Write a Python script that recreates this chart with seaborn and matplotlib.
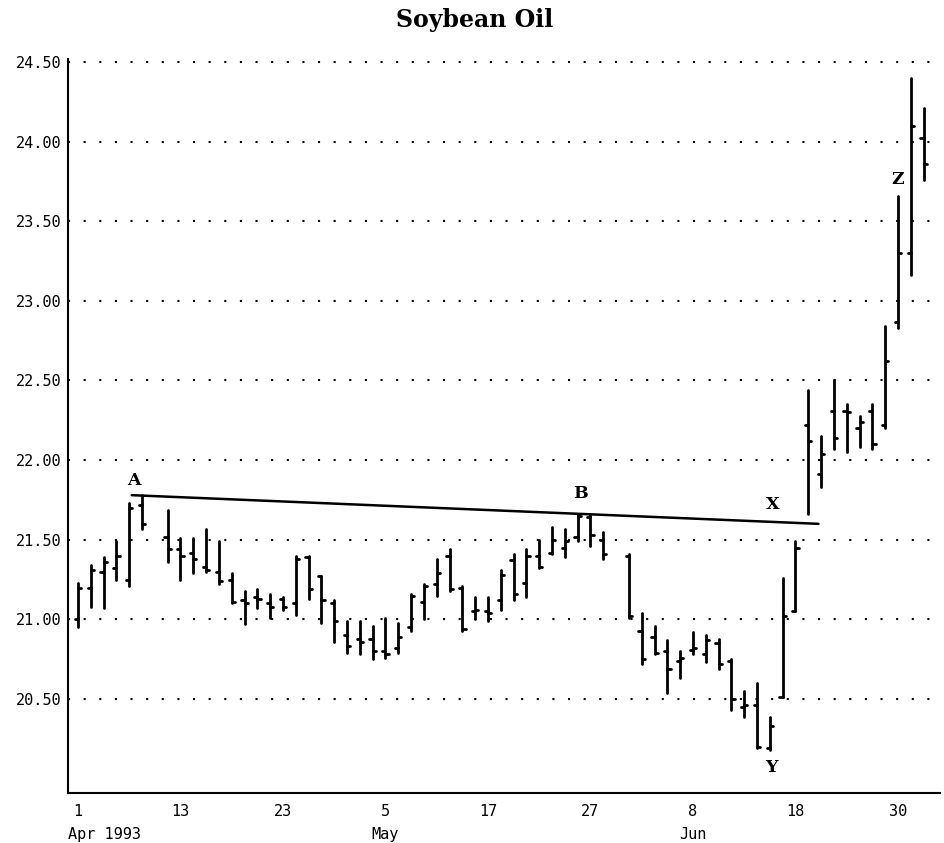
# Soybean Oil daily bar chart, Apr - Jul 1993
import numpy as np
import pandas as pd
import seaborn as sns
import matplotlib
matplotlib.use('Agg')
import matplotlib.pyplot as plt
from matplotlib.ticker import MultipleLocator, FixedLocator

# Daily prices (open / high / low / close)
dates = ['1993-04-01', '1993-04-02', '1993-04-05', '1993-04-06', '1993-04-07', '1993-04-08',
         '1993-04-12', '1993-04-13', '1993-04-14', '1993-04-15', '1993-04-16',
         '1993-04-19', '1993-04-20', '1993-04-21', '1993-04-22', '1993-04-23',
         '1993-04-26', '1993-04-27', '1993-04-28', '1993-04-29', '1993-04-30',
         '1993-05-03', '1993-05-04', '1993-05-05', '1993-05-06', '1993-05-07',
         '1993-05-10', '1993-05-11', '1993-05-12', '1993-05-13', '1993-05-14',
         '1993-05-17', '1993-05-18', '1993-05-19', '1993-05-20', '1993-05-21',
         '1993-05-24', '1993-05-25', '1993-05-26', '1993-05-27', '1993-05-28',
         '1993-06-01', '1993-06-02', '1993-06-03', '1993-06-04',
         '1993-06-07', '1993-06-08', '1993-06-09', '1993-06-10', '1993-06-11',
         '1993-06-14', '1993-06-15', '1993-06-16', '1993-06-17', '1993-06-18',
         '1993-06-21', '1993-06-22', '1993-06-23', '1993-06-24', '1993-06-25',
         '1993-06-28', '1993-06-29', '1993-06-30', '1993-07-01', '1993-07-02']

opens = [21.00, 21.20, 21.30, 21.32, 21.25, 21.72,
         21.52, 21.44, 21.42, 21.33, 21.30,
         21.25, 21.12, 21.14, 21.10, 21.13,
         21.10, 21.39, 21.27, 21.10, 20.90,
         20.88, 20.88, 20.80, 20.82, 20.95,
         21.11, 21.22, 21.40, 21.20, 21.05,
         21.05, 21.12, 21.37, 21.23, 21.40,
         21.42, 21.45, 21.52, 21.64, 21.50,
         21.40, 20.93, 20.89, 20.80,
         20.74, 20.81, 20.78, 20.85, 20.74,
         20.45, 20.46, 20.19, 20.51, 21.05,
         22.22, 21.91, 22.31, 22.31, 22.20,
         22.31, 22.22, 22.87, 23.30, 24.02]

highs = [21.23, 21.34, 21.39, 21.49, 21.73, 21.78,
         21.69, 21.51, 21.51, 21.57, 21.49,
         21.29, 21.18, 21.19, 21.16, 21.14,
         21.40, 21.40, 21.27, 21.12, 20.99,
         20.99, 20.96, 21.01, 20.98, 21.16,
         21.22, 21.38, 21.44, 21.21, 21.14,
         21.14, 21.31, 21.41, 21.44, 21.50,
         21.58, 21.57, 21.66, 21.66, 21.55,
         21.41, 21.04, 20.96, 20.87,
         20.80, 20.92, 20.90, 20.88, 20.75,
         20.55, 20.60, 20.39, 21.26, 21.49,
         22.44, 22.15, 22.50, 22.35, 22.28,
         22.35, 22.84, 23.66, 24.40, 24.21]

lows = [20.95, 21.08, 21.07, 21.25, 21.21, 21.57,
        21.36, 21.25, 21.29, 21.30, 21.22,
        21.10, 20.97, 21.07, 21.01, 21.06,
        21.03, 21.13, 20.98, 20.86, 20.79,
        20.78, 20.75, 20.76, 20.79, 20.93,
        21.00, 21.15, 21.18, 20.93, 21.00,
        20.99, 21.06, 21.12, 21.14, 21.32,
        21.41, 21.39, 21.49, 21.46, 21.38,
        21.01, 20.72, 20.78, 20.54,
        20.63, 20.78, 20.73, 20.69, 20.43,
        20.39, 20.19, 20.18, 20.51, 21.05,
        21.66, 21.83, 22.07, 22.05, 22.08,
        22.07, 22.20, 22.83, 23.16, 23.76]

closes = [21.20, 21.31, 21.36, 21.40, 21.70, 21.60,
          21.44, 21.40, 21.38, 21.31, 21.24,
          21.11, 21.10, 21.13, 21.08, 21.08,
          21.38, 21.19, 21.12, 20.99, 20.83,
          20.86, 20.80, 20.78, 20.89, 21.15,
          21.21, 21.29, 21.19, 20.94, 21.06,
          21.04, 21.28, 21.16, 21.40, 21.33,
          21.50, 21.49, 21.65, 21.53, 21.41,
          21.02, 20.75, 20.79, 20.69,
          20.76, 20.82, 20.87, 20.72, 20.50,
          20.46, 20.20, 20.33, 21.02, 21.45,
          22.12, 22.04, 22.14, 22.30, 22.24,
          22.10, 22.62, 23.30, 24.10, 23.86]

# trendline A-B-X (position in weekdays from Apr 1, price)
trend_pos = [4.2, 57.8]
trend_price = [21.78, 21.60]

# pattern letters
note_text = ['A', 'B', 'X', 'Y', 'Z']
note_pos = [4.4, 39.2, 54.2, 54.1, 64.0]
note_price = [21.87, 21.79, 21.72, 20.07, 23.76]

month_labels = ['May', 'Jun']
month_pos = [24, 48]

# weekday index since Apr 1 (holidays leave a gap)
xpos = np.busday_count('1993-04-01', np.array(dates, dtype='datetime64[D]'))

tick = 0.25
rows = []
for k, x in enumerate(xpos):
    rows.append((f'bar{k}', x, lows[k]))
    rows.append((f'bar{k}', x, highs[k]))
    rows.append((f'open{k}', x - tick, opens[k]))
    rows.append((f'open{k}', x, opens[k]))
    rows.append((f'close{k}', x, closes[k]))
    rows.append((f'close{k}', x + tick, closes[k]))
bars = pd.DataFrame(rows, columns=['unit', 'x', 'price'])

sns.set_style('white')
plt.rcParams['font.family'] = ['DejaVu Sans Mono']

fig = plt.figure(figsize=(9.44, 8.43), dpi=100)
ax = fig.add_axes([0.072, 0.0593, 0.924, 0.871])

sns.lineplot(data=bars, x='x', y='price', units='unit', estimator=None, sort=False,
             color='black', linewidth=2.0, ax=ax)
sns.lineplot(x=trend_pos, y=trend_price, color='black', linewidth=1.8, ax=ax)

for t, x, y in zip(note_text, note_pos, note_price):
    ax.text(x, y, t, ha='center', va='center', fontsize=12.5, fontweight='bold',
            family='DejaVu Serif', color='black')

ax.set_xlim(-0.78, 67.3)
ax.set_ylim(19.91, 24.52)

ax.yaxis.set_major_locator(FixedLocator(np.arange(20.5, 24.51, 0.5)))
ax.yaxis.set_major_formatter(lambda v, p: f'{v:.2f}')
ax.grid(axis='y', color='black', linestyle=(0, (1, 6.5)), linewidth=1.5)
ax.grid(axis='x', visible=False)

major = np.arange(0, 65, 8)
day_labels = [str(pd.Timestamp(np.busday_offset('1993-04-01', int(m), roll='forward')).day)
              for m in major]
ax.set_xticks(major)
ax.set_xticklabels(day_labels)
ax.xaxis.set_minor_locator(MultipleLocator(4))

ax.tick_params(axis='both', which='both', direction='in', length=5, width=1.2,
               color='black', labelsize=11, labelcolor='black')
ax.tick_params(axis='x', pad=8)
ax.tick_params(axis='y', pad=5)

trans = ax.get_xaxis_transform()
ax.text(-0.78, -0.057, 'Apr 1993', transform=trans, ha='left', va='center', fontsize=11,
        color='black')
for m, x in zip(month_labels, month_pos):
    ax.text(x, -0.057, m, transform=trans, ha='center', va='center', fontsize=11,
            color='black')

ax.set_xlabel('')
ax.set_ylabel('')
sns.despine(ax=ax)
for s in ['left', 'bottom']:
    ax.spines[s].set_color('black')
    ax.spines[s].set_linewidth(1.5)

fig.suptitle('Soybean Oil', x=0.503, y=0.99, va='top', fontsize=17,
             fontweight='bold', family='DejaVu Serif', color='black')

fig.savefig('out.png', dpi=100)
